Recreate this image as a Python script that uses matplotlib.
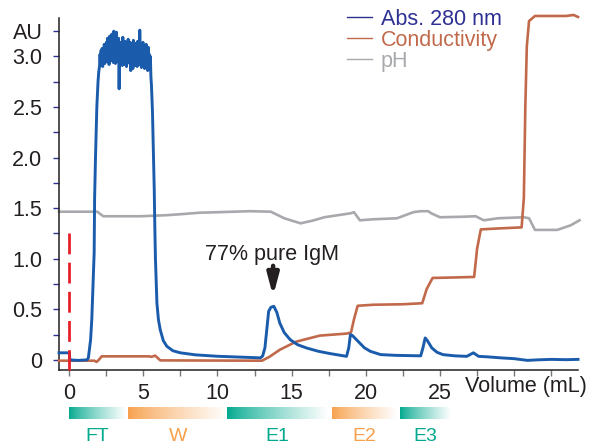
import numpy as np
import matplotlib
matplotlib.use('Agg')
import matplotlib.pyplot as plt
import matplotlib.transforms as mtransforms
from matplotlib.lines import Line2D
from matplotlib.colors import to_rgb

plt.rcParams['font.family'] = ['Liberation Sans', 'DejaVu Sans']

# Abs 280 nm trace (mL, AU)
abs_x_start = [-0.68, 0.02, 0.05, 0.6, 1.2, 1.3, 1.45, 1.53, 1.6, 1.69, 1.72, 1.78, 1.87, 1.95, 2.0]
abs_y_start = [0.07, 0.07, 0.0, -0.005, 0.0, 0.02, 0.2, 0.4, 0.7, 1.06, 1.6, 2.0, 2.5, 2.75, 2.85]

plateau_vals = [2.90, 3.02, 2.92, 3.06, 2.95, 3.08, 2.90, 3.05, 2.97, 3.12, 2.93, 3.10, 2.96,
                3.14, 2.95, 3.18, 2.99, 3.12, 2.92, 3.20, 3.01, 3.15, 2.96, 3.22, 3.03, 3.10, 2.94,
                3.25, 3.00, 3.16, 2.93, 3.09, 3.24, 2.98, 3.13, 2.95, 3.18, 2.68, 3.05, 2.93, 3.14,
                2.97, 3.11, 2.91, 3.19, 3.00, 3.08, 2.92, 3.15, 2.98, 3.06, 2.90, 3.12, 3.01, 3.17,
                2.95, 3.09, 2.93, 3.14, 2.86, 3.05, 2.97, 3.11, 2.88, 3.16, 2.99, 3.07, 2.91, 3.13,
                2.96, 3.10, 2.90, 3.15, 3.00, 3.06, 2.92, 3.26, 2.97, 3.12, 2.89, 3.08, 2.95, 3.14,
                2.93, 3.10, 2.88, 3.05, 2.96, 3.12, 2.90, 3.04, 2.86, 3.09, 2.94, 3.02, 2.88, 3.00,
                2.80, 2.72]
plateau_x0, plateau_x1 = 2.05, 5.55

abs_x_end = [5.62, 5.69, 5.74, 5.78, 5.82, 5.92, 6.02, 6.14, 6.35, 6.59, 7.0, 7.5, 8.5, 9.96,
             11.5, 12.9, 13.05, 13.2, 13.45, 13.6, 13.8, 14.0, 14.2, 14.5, 14.9, 15.4, 16.0,
             16.8, 17.6, 18.3, 18.7, 18.85, 18.96, 19.1, 19.5, 19.9, 20.3, 21.0, 22.0, 23.0,
             23.7, 23.85, 24.0, 24.15, 24.45, 24.8, 25.2, 26.0, 26.8, 27.0, 27.25, 27.6, 28.2,
             29.1, 30.0, 30.9, 31.5, 32.5, 33.5, 34.3]
abs_y_end = [2.45, 2.0, 1.68, 1.3, 1.0, 0.56, 0.4, 0.30, 0.19, 0.134, 0.09, 0.07, 0.05, 0.036,
             0.028, 0.02, 0.04, 0.12, 0.48, 0.52, 0.53, 0.47, 0.365, 0.27, 0.20, 0.15, 0.118,
             0.085, 0.062, 0.045, 0.035, 0.12, 0.25, 0.24, 0.18, 0.12, 0.085, 0.052, 0.045, 0.042,
             0.04, 0.12, 0.217, 0.19, 0.118, 0.075, 0.052, 0.04, 0.035, 0.05, 0.07, 0.035, 0.03,
             0.02, 0.012, -0.005, 0.0, 0.005, 0.002, 0.005]

# Conductivity (scaled to AU axis)
cond_x = [-0.68, 1.7, 1.85, 2.0, 2.2, 5.4, 5.55, 5.8, 6.15, 13.0, 13.5, 14.2, 15.3, 16.9, 18.7,
          19.0, 19.2, 19.45, 20.5, 22.5, 23.8, 24.1, 24.5, 26.0, 27.3, 27.5, 27.75, 29.0, 30.5,
          30.65, 30.75, 30.85, 31.0, 31.4, 33.5, 34.0, 34.3]
cond_y = [-0.008, -0.008, -0.02, 0.0, 0.035, 0.035, 0.03, 0.042, -0.005, -0.008, 0.03, 0.10,
          0.18, 0.24, 0.26, 0.27, 0.4, 0.535, 0.545, 0.55, 0.56, 0.7, 0.81, 0.815, 0.82, 1.1,
          1.29, 1.30, 1.31, 1.6, 2.5, 3.1, 3.35, 3.4, 3.4, 3.41, 3.39]

# pH (scaled to AU axis)
ph_x = [-0.68, 1.9, 2.3, 4.8, 6.5, 7.5, 8.8, 10.0, 12.2, 13.6, 14.5, 15.6, 16.5, 17.2, 19.0,
        19.2, 19.6, 20.5, 22.1, 23.2, 23.7, 24.2, 24.4, 25.0, 26.5, 27.4, 27.95, 28.9, 30.65,
        31.0, 31.4, 32.9, 33.8, 34.4]
ph_y = [1.465, 1.465, 1.42, 1.42, 1.43, 1.44, 1.455, 1.46, 1.47, 1.465, 1.40, 1.35, 1.38, 1.41,
        1.45, 1.46, 1.38, 1.39, 1.40, 1.46, 1.47, 1.47, 1.45, 1.41, 1.415, 1.42, 1.38, 1.40,
        1.41, 1.40, 1.285, 1.285, 1.33, 1.38]

# fractions
frac_labels = ['FT', 'W', 'E1', 'E2', 'E3']
frac_start = [0.0, 3.98, 10.66, 17.75, 22.33]
frac_end = [3.78, 10.66, 17.4, 22.1, 25.7]
frac_colors = ['#00a88e', '#f7a04b', '#00a88e', '#f7a04b', '#00a88e']

BLUE = '#1a5cab'
BROWN = '#c1694a'
GRAY = '#a7a9ac'
NAVY = '#2e3192'
TXT = '#231f20'

fig = plt.figure(figsize=(5.9, 4.44), dpi=100)
ax = fig.add_axes([59 / 590, 1 - 370 / 444, (578 - 59) / 590, (370 - 18) / 444])

abs_x = abs_x_start + list(np.linspace(plateau_x0, plateau_x1, len(plateau_vals))) + abs_x_end
abs_y = abs_y_start + plateau_vals + abs_y_end

ax.plot(ph_x, ph_y, color=GRAY, lw=1.9, clip_on=False, zorder=2)
ax.plot(cond_x, cond_y, color=BROWN, lw=1.9, clip_on=False, zorder=3)
ax.plot(abs_x, abs_y, color=BLUE, lw=2.1, clip_on=False, zorder=4)

# load marker at 0 mL
ax.plot([0, 0], [1.25, -0.1], color='#e8202a', lw=2.0, dashes=(7.5, 3), clip_on=False, zorder=5)

# annotation
ax.text(13.65, 1.04, '77% pure IgM', ha='center', va='center', fontsize=15.5, color=TXT)
ax.annotate('', xy=(13.75, 0.63), xytext=(13.75, 0.93),
            arrowprops=dict(arrowstyle='-|>,head_width=0.24,head_length=0.9', lw=3.2,
                            color=TXT, shrinkA=0, shrinkB=0, mutation_scale=14))

ax.spines['top'].set_visible(False)
ax.spines['right'].set_visible(False)
for s in ('left', 'bottom'):
    ax.spines[s].set_color(TXT)
    ax.spines[s].set_linewidth(1.1)

ax.set_yticks([0, 0.5, 1.0, 1.5, 2.0, 2.5, 3.0, 3.25])
ax.set_yticklabels(['0', '0.5', '1.0', '1.5', '2.0', '2.5', '3.0', 'AU'])
ax.set_yticks([0.25, 0.75, 1.25, 1.75, 2.25, 2.75], minor=True)
ax.set_xticks([0, 5, 10, 15, 20, 25, 30])
ax.set_xticklabels(['0', '5', '10', '15', '20', '25', ''])
ax.set_xticks([2.5, 7.5, 12.5, 17.5, 22.5, 27.5, 32.5], minor=True)

ax.tick_params(axis='y', which='both', direction='out', length=4, width=1, color=NAVY,
               labelsize=15.5, labelcolor=TXT, pad=8)
ax.tick_params(axis='x', which='both', direction='out', length=4, width=1, color='#777777',
               labelsize=15.5, labelcolor=TXT, pad=5)

fig.text(587 / 590, 1 - 386 / 444, 'Volume (mL)', ha='right', va='center', fontsize=15.5, color=TXT)

# fraction bars with fading gradient
trans = mtransforms.blended_transform_factory(ax.transData, ax.transAxes)
ramp = np.linspace(0, 1, 256)
for lab, x0, x1, col in zip(frac_labels, frac_start, frac_end, frac_colors):
    rgb = np.array(to_rgb(col))
    t = ramp ** 0.8
    img = (1 - t)[:, None] * rgb[None, :] + t[:, None] * np.ones(3)[None, :]
    ax.imshow(img[None, :, :], extent=(x0, x1, -0.139, -0.105), transform=trans,
              aspect='auto', clip_on=False, interpolation='bilinear', zorder=1)
    ax.text((x0 + x1) / 2, (370 - 428) / 352, lab, transform=trans, ha='center', va='top',
            fontsize=14, color=col)

ax.set_xlim(-0.68, 34.3)
ax.set_ylim(-0.1, 3.38)

# legend
handles = [Line2D([], [], color=NAVY, lw=1.0),
           Line2D([], [], color=BROWN, lw=1.0),
           Line2D([], [], color=GRAY, lw=1.0)]
fig.legend(handles, ['Abs. 280 nm', 'Conductivity', 'pH'], loc='upper left',
           bbox_to_anchor=(347 / 590, 1 - 9 / 444), frameon=False, borderpad=0,
           borderaxespad=0, handlelength=1.15, handletextpad=0.42, labelspacing=0.0,
           fontsize=15.5, labelcolor=[NAVY, BROWN, GRAY])

fig.savefig('out.png', dpi=100)
